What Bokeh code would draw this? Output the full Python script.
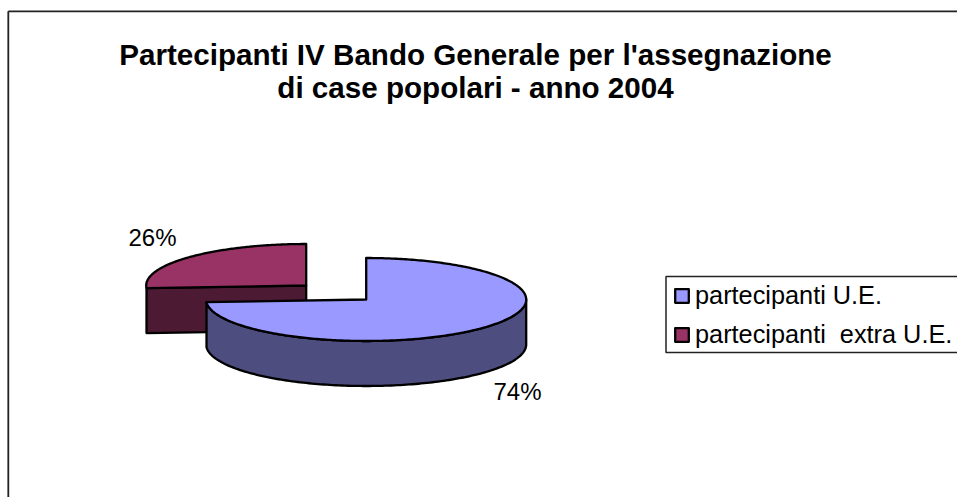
import numpy as np
from bokeh.plotting import figure
from bokeh.models import Range1d, Label, Legend, LegendItem
from bokeh.embed import file_html
from bokeh.resources import INLINE

# data
title_lines = ["Partecipanti IV Bando Generale per l'assegnazione", "di case popolari - anno 2004"]
categories = ["partecipanti U.E.", "partecipanti  extra U.E."]
shares = [74, 26]
labels = ["74%", "26%"]
top_colors = ["#9999FF", "#993366"]
side_colors = ["#4D4D80", "#4D1A33"]

FONT = "Liberation Sans"
W, H = 957, 497
p = figure(width=W, height=H, output_backend="svg", toolbar_location=None,
           x_range=Range1d(0, W), y_range=Range1d(H, 0), min_border=0,
           outline_line_color=None, x_axis_location=None, y_axis_location=None)
p.grid.visible = False
p.background_fill_color = "white"
p.border_fill_color = "white"

# chart frame (open beyond the picture's edges)
p.line([7.8, 7.8], [505, 10.8], line_color="#222222", line_width=1.8)
p.line([7.8, 965], [10.8, 10.8], line_color="#222222", line_width=1.8)

# pie geometry
A, B, DEPTH = 160, 41.5, 45
cx, cy = 365.7, 299
OFFSET = (-60, -14)

def ell(c_x, c_y, a0, a1, n=160):
    """Points on the ellipse for clockwise angles from 12 o'clock (radians)."""
    t = np.linspace(a0, a1, n)
    return c_x + A * np.sin(t), c_y - B * np.cos(t)

total = sum(shares)
split = 2 * np.pi * shares[0] / total
outline = dict(line_color="black", line_width=2.3, line_join="round")

# exploded slice (drawn first, sits behind)
rx, ry = cx + OFFSET[0], cy + OFFSET[1]
x_top, y_top = ell(rx, ry, split, 2 * np.pi)
lx, ly = x_top[0], y_top[0]
p.patch([rx, lx, lx, rx], [ry, ly, ly + DEPTH, ry + DEPTH], fill_color=side_colors[1], **outline)
r_red = p.patch(np.r_[rx, x_top], np.r_[ry, y_top], fill_color=top_colors[1], **outline)

# main slice: side wall then top
x_front, y_front = ell(cx, cy, np.pi / 2, split)
p.patch(np.r_[x_front, x_front[::-1]], np.r_[y_front, y_front[::-1] + DEPTH],
        fill_color=side_colors[0], **outline)
x_main, y_main = ell(cx, cy, 0, split, 320)
r_blue = p.patch(np.r_[cx, x_main], np.r_[cy, y_main], fill_color=top_colors[0], **outline)

# value labels
p.add_layout(Label(x=517, y=391, text=labels[0], text_font=FONT, text_font_size="24px",
                   text_color="black", text_align="center", text_baseline="middle"))
p.add_layout(Label(x=152, y=237, text=labels[1], text_font=FONT, text_font_size="24px",
                   text_color="black", text_align="center", text_baseline="middle"))

# title
for yy, line in zip([54, 87], title_lines):
    p.add_layout(Label(x=475, y=yy, text=line, text_font=FONT, text_font_size="29.6px",
                       text_font_style="bold", text_color="black",
                       text_align="center", text_baseline="middle"))

# legend box, open past the right edge of the picture
p.line([965, 665.5, 665.5, 965], [276, 276, 352, 352], line_color="#222222", line_width=1.5)

# legend
items = [LegendItem(label=categories[0], renderers=[r_blue]),
         LegendItem(label=categories[1], renderers=[r_red])]
legend = Legend(items=items, location=(673, 148), orientation="vertical",
                border_line_color=None, background_fill_color=None,
                label_text_font=FONT, label_text_font_size="25.3px", label_text_color="black",
                glyph_width=17, glyph_height=17, padding=8, spacing=10, margin=0, label_standoff=5,
                click_policy="none")
p.add_layout(legend, "center")

open("out.html", "w").write(file_html(p, INLINE))
